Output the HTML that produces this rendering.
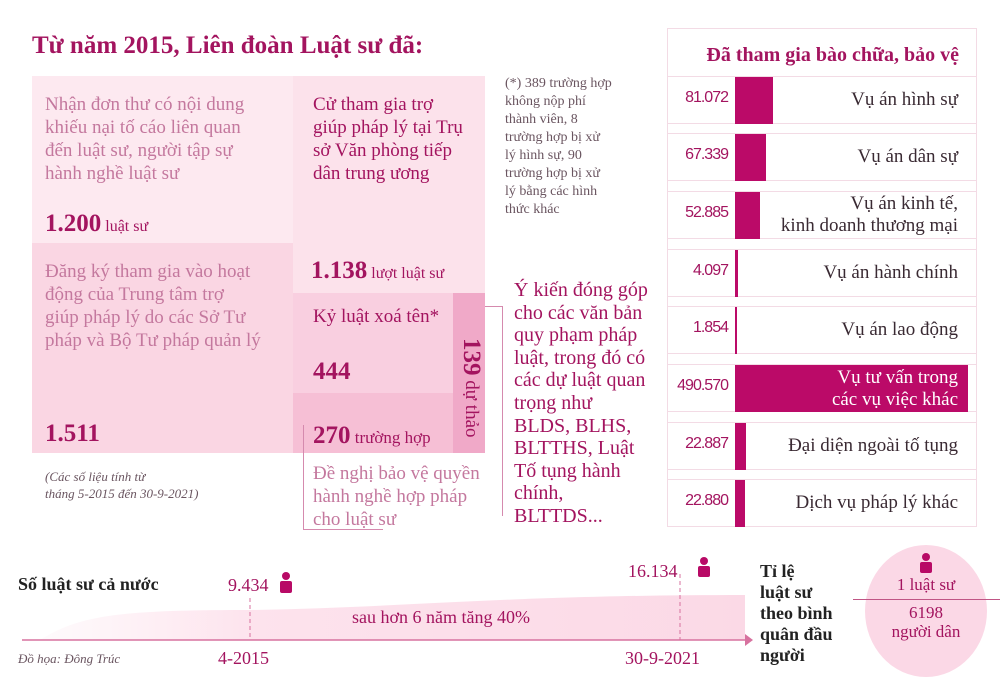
<!DOCTYPE html>
<html><head><meta charset="utf-8"><style>
*{margin:0;padding:0;box-sizing:border-box}
body{width:1000px;height:681px;background:#fff;position:relative;overflow:hidden;font-family:"Liberation Serif","DejaVu Serif",serif;color:#a3145f}
.a{position:absolute;white-space:nowrap}
.t{font-size:19px;line-height:23px}
.b{font-weight:bold}
.row{position:absolute;left:667px;width:310px;height:48px;border:1px solid #f3dbe5}
.bar{position:absolute;left:67px;top:0;height:47px;background:#bb0a68}
.v{position:absolute;right:250px;width:60px;text-align:right;top:12px;font-family:"Liberation Sans",sans-serif;font-size:16px;letter-spacing:-1px;color:#a3145f}
.l{position:absolute;right:18px;text-align:right;font-size:19px;line-height:22px;color:#3a2a33;white-space:nowrap}
</style></head><body>
<div class="a b" style="left:32px;top:32px;font-size:25px;color:#a3145f">Từ năm 2015, Liên đoàn Luật sư đã:</div>

<div class="a" style="left:32px;top:76px;width:261px;height:167px;background:#fde9f0"></div>
<div class="a" style="left:293px;top:76px;width:192px;height:217px;background:#fce2eb"></div>
<div class="a" style="left:32px;top:243px;width:261px;height:210px;background:#fad6e3"></div>
<div class="a" style="left:293px;top:293px;width:160px;height:100px;background:#f9cfe0"></div>
<div class="a" style="left:293px;top:393px;width:160px;height:60px;background:#f6bfd5"></div>
<div class="a" style="left:453px;top:293px;width:32px;height:160px;background:#f0a9c8"></div>

<div class="a t" style="left:45px;top:93px;color:#c4789e">Nhận đơn thư có nội dung<br>khiếu nại tố cáo liên quan<br>đến luật sư, người tập sự<br>hành nghề luật sư</div>
<div class="a" style="left:45px;top:210px;font-size:16px"><b style="font-size:25px">1.200</b> luật sư</div>
<div class="a t" style="left:313px;top:93px">Cử tham gia trợ<br>giúp pháp lý tại Trụ<br>sở Văn phòng tiếp<br>dân trung ương</div>
<div class="a" style="left:311px;top:257px;font-size:16px"><b style="font-size:25px">1.138</b> lượt luật sư</div>
<div class="a t" style="left:45px;top:260px;color:#c4789e">Đăng ký tham gia vào hoạt<br>động của Trung tâm trợ<br>giúp pháp lý do các Sở Tư<br>pháp và Bộ Tư pháp quản lý</div>
<div class="a b" style="left:45px;top:420px;font-size:25px">1.511</div>
<div class="a t" style="left:313px;top:305px">Kỷ luật xoá tên*</div>
<div class="a b" style="left:313px;top:358px;font-size:25px">444</div>
<div class="a" style="left:313px;top:422px;font-size:17px"><b style="font-size:25px">270</b> trường hợp</div>
<div class="a" style="left:457px;top:338px;writing-mode:vertical-rl;font-size:19px"><b style="font-size:25px">139</b> dự thảo</div>
<div class="a" style="left:45px;top:468px;font-size:13px;font-style:italic;line-height:17px;color:#6a5560">(Các số liệu tính từ<br>tháng 5-2015 đến 30-9-2021)</div>
<div class="a t" style="left:313px;top:462px;color:#c4789e">Đề nghị bảo vệ quyền<br>hành nghề hợp pháp<br>cho luật sư</div>
<div class="a" style="left:303px;top:425px;width:1px;height:105px;background:#d58aae"></div>
<div class="a" style="left:303px;top:529px;width:80px;height:1px;background:#d58aae"></div>
<div class="a" style="left:485px;top:306px;width:18px;height:1px;background:#d58aae"></div>
<div class="a" style="left:502px;top:306px;width:1px;height:210px;background:#d58aae"></div>
<div class="a" style="left:505px;top:75px;font-size:14px;line-height:18px;color:#6a5560">(*) 389 trường hợp<br>không nộp phí<br>thành viên, 8<br>trường hợp bị xử<br>lý hình sự, 90<br>trường hợp bị xử<br>lý bằng các hình<br>thức khác</div>
<div class="a" style="left:514px;top:279px;font-size:20px;line-height:22.6px">Ý kiến đóng góp<br>cho các văn bản<br>quy phạm pháp<br>luật, trong đó có<br>các dự luật quan<br>trọng như<br>BLDS, BLHS,<br>BLTTHS, Luật<br>Tố tụng hành<br>chính,<br>BLTTDS...</div>

<div class="a" style="left:667px;top:28px;width:310px;height:499px;border:1px solid #f3dbe5"></div>
<div class="a b" style="left:667px;top:44px;width:292px;text-align:right;font-size:20px">Đã tham gia bào chữa, bảo vệ</div>
<div class="row" style="top:76px"><div class="bar" style="width:38px"></div><div class="v" style="left:0">81.072</div><div class="l" style="top:12px">Vụ án hình sự</div></div>
<div class="row" style="top:133px"><div class="bar" style="width:31px"></div><div class="v" style="left:0">67.339</div><div class="l" style="top:12px">Vụ án dân sự</div></div>
<div class="row" style="top:191px"><div class="bar" style="width:25px"></div><div class="v" style="left:0">52.885</div><div class="l" style="top:1px">Vụ án kinh tế,<br>kinh doanh thương mại</div></div>
<div class="row" style="top:249px"><div class="bar" style="width:3px"></div><div class="v" style="left:0">4.097</div><div class="l" style="top:12px">Vụ án hành chính</div></div>
<div class="row" style="top:306px"><div class="bar" style="width:2px"></div><div class="v" style="left:0">1.854</div><div class="l" style="top:12px">Vụ án lao động</div></div>
<div class="row" style="top:364px"><div class="bar" style="width:233px"></div><div class="v" style="left:0">490.570</div><div class="l" style="top:2px;color:#fff">Vụ tư vấn trong<br>các vụ việc khác</div></div>
<div class="row" style="top:422px"><div class="bar" style="width:11px"></div><div class="v" style="left:0">22.887</div><div class="l" style="top:12px">Đại diện ngoài tố tụng</div></div>
<div class="row" style="top:479px"><div class="bar" style="width:10px"></div><div class="v" style="left:0">22.880</div><div class="l" style="top:12px">Dịch vụ pháp lý khác</div></div>

<svg class="a" style="left:0;top:540px" width="1000" height="141">
<defs><linearGradient id="g" x1="0" x2="1"><stop offset="0" stop-color="#fde8f0" stop-opacity="0.2"/><stop offset="0.3" stop-color="#fde3ed"/><stop offset="1" stop-color="#fbd9e6"/></linearGradient></defs>
<path d="M40,100 C80,75 120,70 250,70 C400,68 500,55 745,55 L745,100 Z" fill="url(#g)"/>
<line x1="22" y1="100" x2="745" y2="100" stroke="#d7729f" stroke-width="1.5"/>
<path d="M745,94 L753,100 L745,106 Z" fill="#d7729f"/>
<line x1="250" y1="58" x2="250" y2="100" stroke="#d7729f" stroke-dasharray="4,3"/>
<line x1="680" y1="34" x2="680" y2="100" stroke="#d7729f" stroke-dasharray="4,3"/>
<g fill="#b80a66"><circle cx="286" cy="36" r="4"/><rect x="280" y="41" width="12" height="12" rx="2"/>
<circle cx="704" cy="21" r="4"/><rect x="698" y="26" width="12" height="11" rx="2"/></g>
</svg>
<div class="a" style="left:865px;top:545px;width:122px;height:132px;border-radius:50%;background:#fbd8e6"></div>
<svg class="a" style="left:919px;top:553px" width="14" height="20"><circle cx="7" cy="4" r="4" fill="#b80a66"/><rect x="1" y="9" width="12" height="11" rx="2" fill="#b80a66"/></svg>
<div class="a" style="left:871px;top:575px;width:110px;text-align:center;font-size:17px">1 luật sư</div>
<div class="a" style="left:853px;top:599px;width:147px;height:1px;background:#c05585"></div>
<div class="a" style="left:871px;top:603px;width:110px;text-align:center;font-size:17px;line-height:19px">6198<br>người dân</div>
<div class="a b" style="left:18px;top:574px;font-size:18px;color:#222">Số luật sư cả nước</div>
<div class="a" style="left:228px;top:575px;font-size:18px">9.434</div>
<div class="a" style="left:628px;top:561px;font-size:18px">16.134</div>
<div class="a" style="left:352px;top:607px;font-size:18px">sau hơn 6 năm tăng 40%</div>
<div class="a" style="left:218px;top:648px;font-size:18px">4-2015</div>
<div class="a" style="left:625px;top:648px;font-size:18px">30-9-2021</div>
<div class="a" style="left:18px;top:651px;font-size:13px;font-style:italic;color:#6a5560">Đồ họa: Đông Trúc</div>
<div class="a b" style="left:760px;top:561px;font-size:18px;line-height:21px;color:#222">Tỉ lệ<br>luật sư<br>theo bình<br>quân đầu<br>người</div>
</body></html>
